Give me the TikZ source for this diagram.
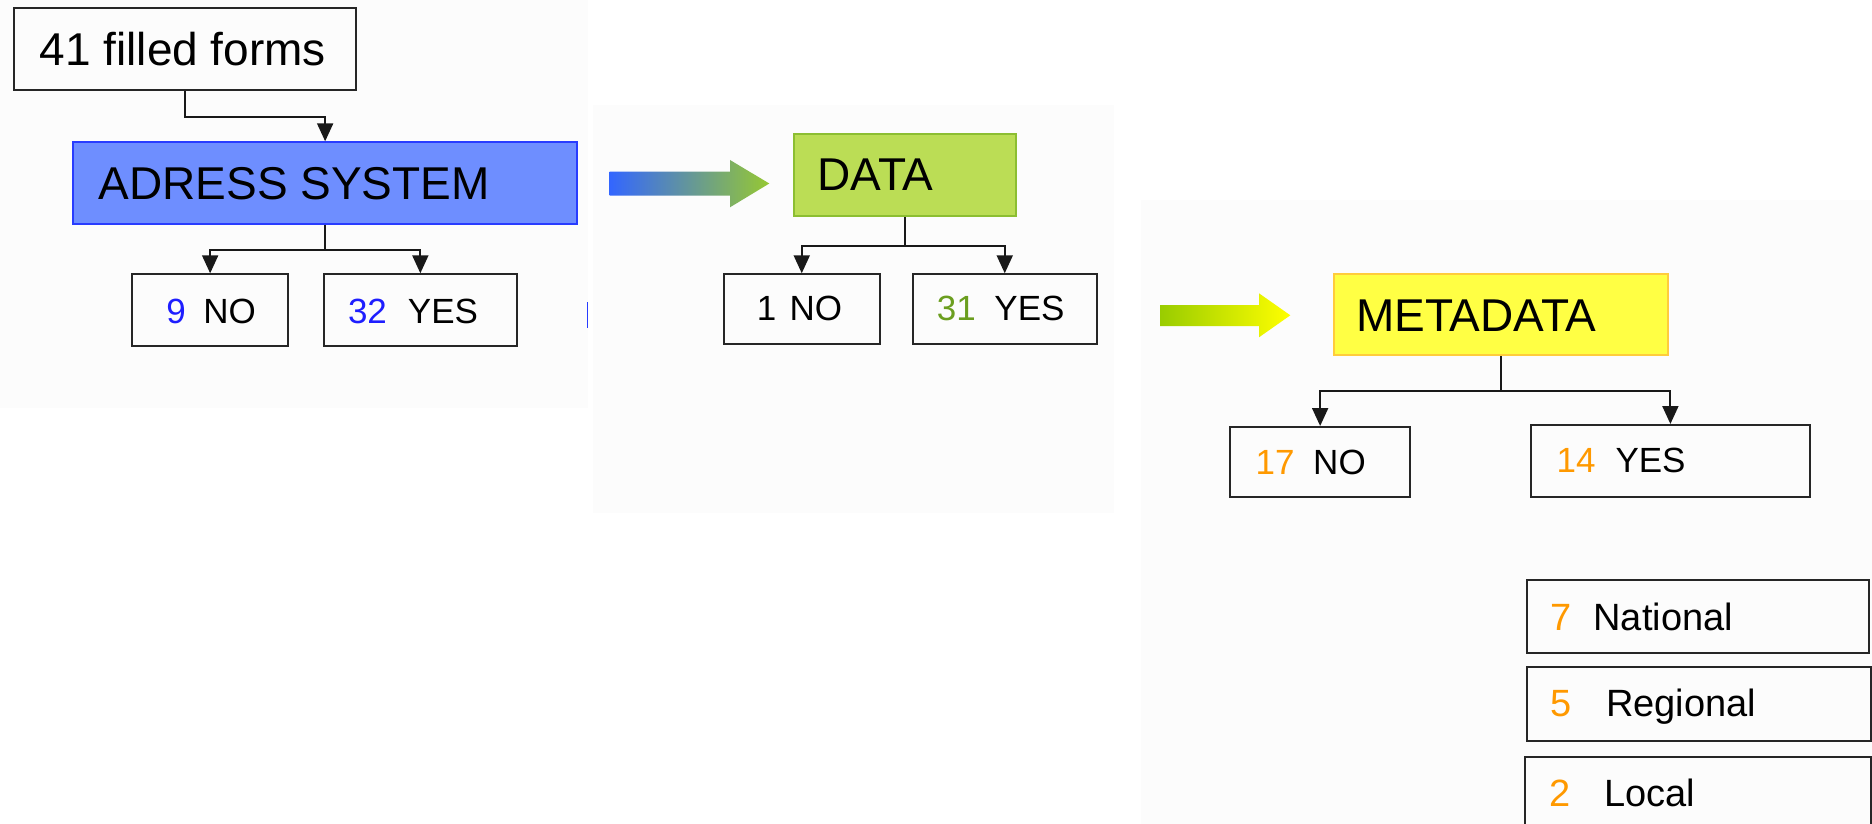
\documentclass[tikz,border=0pt]{standalone}
\usepackage{fontspec}
\setmainfont{Liberation Sans}
\usetikzlibrary{arrows.meta}
\definecolor{adfill}{RGB}{110,142,255}
\definecolor{addraw}{RGB}{40,60,255}
\definecolor{datafill}{RGB}{187,221,85}
\definecolor{datadraw}{RGB}{140,190,50}
\definecolor{metafill}{RGB}{255,255,68}
\definecolor{metadraw}{RGB}{255,204,60}
\definecolor{numblue}{RGB}{30,30,255}
\definecolor{numgreen}{RGB}{107,158,31}
\definecolor{numorange}{RGB}{255,153,0}
\definecolor{arblue}{RGB}{51,102,255}
\definecolor{argreen}{RGB}{150,200,50}
\definecolor{arlime}{RGB}{153,204,0}
\definecolor{aryellow}{RGB}{255,255,0}
\definecolor{bgfaint}{RGB}{252,252,252}
\newcommand\bigfont{\fontsize{46}{50}\selectfont}
\newcommand\smallfont{\fontsize{35}{40}\selectfont}
\newcommand\legfont{\fontsize{38}{42}\selectfont}
\begin{document}
\begin{tikzpicture}[x=1pt,y=-1pt,
  box/.style={draw=black!85, line width=2pt, anchor=north west, inner sep=0pt},
  txt/.style={anchor=base west, inner sep=0pt, font=\smallfont},
  conn/.style={draw=black!90, line width=2pt, -{Triangle[length=18pt,width=16pt]}},
  link/.style={draw=black!90, line width=2pt}]
\useasboundingbox (0,0) rectangle (1872,824);
\clip (0,0) rectangle (1872,824);
\fill[white] (0,0) rectangle (1872,824);
% faint background panels
\fill[bgfaint] (0,0) rectangle (588,408);
\fill[bgfaint] (593,105) rectangle (1114,513);
\fill[bgfaint] (1141,200) rectangle (1872,824);
\draw[addraw, line width=1pt] (587,302) -- (587,328);

% gradient block arrows
\shade[left color=arblue, right color=argreen]
  (609.6,171.7) -- (730,171.7) -- (730,160) -- (769.3,183.5) -- (730,207.3) -- (730,195.7) -- (609.6,195.7) -- cycle;
\shade[left color=arlime, right color=aryellow]
  (1160,305) -- (1259,305) -- (1259,293.3) -- (1290.3,315.3) -- (1259,337.3) -- (1259,326) -- (1160,326) -- cycle;

% boxes
\node[box, minimum width=341.7pt, minimum height=81.4pt] (ff) at (13.3,7.3) {};
\node[box, fill=adfill, draw=addraw, minimum width=503.7pt, minimum height=81.4pt] (ad) at (72.3,141.3) {};
\node[box, minimum width=156.3pt, minimum height=71.7pt] (no1) at (131,273.3) {};
\node[box, minimum width=193.3pt, minimum height=71.7pt] (yes1) at (322.7,273.3) {};

\node[box, fill=datafill, draw=datadraw, minimum width=221.8pt, minimum height=82pt] (data) at (793.2,133) {};
\node[box, minimum width=155.7pt, minimum height=69.4pt] (no2) at (722.9,273.3) {};
\node[box, minimum width=183.9pt, minimum height=69.4pt] (yes2) at (911.8,273.3) {};

\node[box, fill=metafill, draw=metadraw, minimum width=333.8pt, minimum height=80.7pt] (meta) at (1332.8,273.3) {};
\node[box, minimum width=179.7pt, minimum height=69.7pt] (no3) at (1229.3,426) {};
\node[box, minimum width=279.2pt, minimum height=72pt] (yes3) at (1529.8,424) {};

\node[box, minimum width=342.6pt, minimum height=72.4pt] (nat) at (1525.7,579.3) {};
\node[box, minimum width=344pt, minimum height=74pt] (reg) at (1526,666) {};
\node[box, minimum width=346pt, minimum height=80pt] (loc) at (1524,756) {};

% texts
\node[txt, font=\bigfont] (fft) at (39.5,66) {41 filled forms};
\node[txt, font=\bigfont] (adt) at (98.5,200) {ADRESS SYSTEM};
\node[txt] (no1t) at (166.2,323.3) {\textcolor{numblue}{9}\hspace{17.5pt}NO};
\node[txt] (yes1t) at (347.8,323.3) {\textcolor{numblue}{32}\hspace{21pt}YES};

\node[txt, font=\bigfont] (datat) at (817.4,190.7) {DATA};
\node[txt] (no2t) at (756.6,320.7) {1\hspace{13.4pt}NO};
\node[txt] (yes2t) at (936.7,320.7) {\textcolor{numgreen}{31}\hspace{18.6pt}YES};

\node[txt, font=\bigfont] (metat) at (1356,331) {METADATA};
\node[txt] (no3t) at (1255.5,474) {\textcolor{numorange}{17}\hspace{18.6pt}NO};
\node[txt] (yes3t) at (1556.4,472.7) {\textcolor{numorange}{14}\hspace{20pt}YES};

\node[txt, font=\legfont] (natt) at (1549.8,630.7) {\textcolor{numorange}{7}\hspace{22.3pt}National};
\node[txt, font=\legfont] (regt) at (1550,716.7) {\textcolor{numorange}{5}\hspace{34.8pt}Regional};
\node[txt, font=\legfont] (loct) at (1548.9,806.7) {\textcolor{numorange}{2}\hspace{34pt}Local};

% connectors
\draw[conn] (ff.south) -- ++(0,26.3) -| (ad.north);
\draw[link] (ad.south) -- ++(0,25.6) coordinate (adj);
\draw[conn] (adj) -| (no1.north);
\draw[conn] (adj) -| (yes1.north);
\draw[link] (data.south) -- ++(0,29) coordinate (dataj);
\draw[conn] (dataj) -| (no2.north);
\draw[conn] (dataj) -| (yes2.north);
\draw[link] (meta.south) -- ++(0,35.3) coordinate (metaj);
\draw[conn] (metaj) -| (no3.north);
\draw[conn] (metaj) -| (yes3.north);
\end{tikzpicture}
\end{document}
